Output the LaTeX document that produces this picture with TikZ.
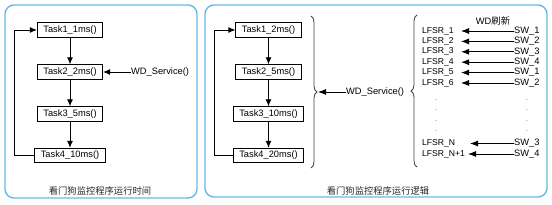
\documentclass[tikz,border=0pt]{standalone}
\usepackage{fontspec}
\setmainfont{Liberation Sans}
\newfontfamily\cjk{Noto Sans CJK SC}
\usetikzlibrary{arrows.meta,decorations.pathreplacing}
\definecolor{panelblue}{RGB}{100,188,228}
\tikzset{
  panel/.style={draw=panelblue,line width=1.4pt,rounded corners=9pt},
  taskbox/.style={draw=black,fill=white,line width=0.9pt,inner xsep=6pt,inner ysep=0pt,minimum height=14.5pt,font=\fontsize{9.3}{10}\selectfont},
  lbl/.style={inner sep=0pt,font=\fontsize{9.3}{10}\selectfont},
  lfsr/.style={inner sep=0pt,font=\fontsize{8.6}{10}\selectfont},
  caption/.style={inner sep=0pt,font=\cjk\fontsize{9.3}{10}\selectfont,text=black!85},
  arr/.style={line width=0.9pt,-{Latex[length=7pt,width=6pt]}},
  warr/.style={line width=0.9pt,-{Latex[length=8pt,width=6pt]}},
  bracestyle/.style={draw=black!75,line width=0.8pt,decorate,decoration={brace,amplitude=6pt}},
  dotlbl/.style={inner sep=0pt,font=\fontsize{6}{6}\selectfont}
}
\begin{document}
\begin{tikzpicture}[x=1pt,y=-1pt]
\useasboundingbox (0,0) rectangle (552,205);
% panels
\draw[panel] (5,5) rectangle (197,198);
\draw[panel] (205,5) rectangle (547,197);

% left panel
\node[taskbox] (a1) at (70,30) {Task1\_1ms()};
\node[taskbox] (a2) at (70,72) {Task2\_2ms()};
\node[taskbox] (a3) at (70,114) {Task3\_5ms()};
\node[taskbox] (a4) at (70,155.5) {Task4\_10ms()};
\node[lbl,anchor=west] (wda) at (131,72) {WD\_Service()};
\draw[arr] (a1) -- (a2);
\draw[arr] (a2) -- (a3);
\draw[arr] (a3) -- (a4);
\draw[arr] (wda.west) -- (a2.east);
\coordinate (la) at (14,0);
\draw[arr] (a4.west) -- (a4.west -| la) -- (a1.west -| la) -- (a1.west);
\node[caption] (capa) at (100,191) {看门狗监控程序运行时间};

% right panel
\node[taskbox] (b1) at (268.5,30) {Task1\_2ms()};
\node[taskbox] (b2) at (268.5,72) {Task2\_5ms()};
\node[taskbox] (b3) at (268.5,114) {Task3\_10ms()};
\node[taskbox] (b4) at (268.5,155.5) {Task4\_20ms()};
\draw[arr] (b1) -- (b2);
\draw[arr] (b2) -- (b3);
\draw[arr] (b3) -- (b4);
\coordinate (lb) at (214,0);
\draw[arr] (b4.west) -- (b4.west -| lb) -- (b1.west -| lb) -- (b1.west);

\coordinate (br1s) at (311,16);
\coordinate (br1e) at (311,168);
\draw[bracestyle] (br1s) -- (br1e);
\coordinate (br1tip) at (318,92);
\node[lbl,anchor=west] (wdb) at (346,92) {WD\_Service()};
\draw[warr] (wdb.west) -- (br1tip);

\coordinate (br2s) at (417,167);
\coordinate (br2e) at (417,15);
\draw[bracestyle] (br2s) -- (br2e);

\node[lbl] (wdr) at (493,21) {WD{\cjk 刷新}};

\coordinate (tipA) at (461,0);
\coordinate (tipN) at (470,0);
\coordinate (tipN1) at (468,0);
\foreach \i/\sw in {1/1,2/2,3/3,4/4,5/1,6/2}{
  \node[lfsr,anchor=west] (l\i) at (422,{31+10.4*(\i-1)}) {LFSR\_\i};
  \node[lbl,anchor=west] (s\i) at (514,{31+10.4*(\i-1)}) {SW\_\sw};
  \draw[warr] (s\i.west) -- (s\i.west -| tipA);
}
\node[lfsr,anchor=west] (lN) at (422,143.5) {LFSR\_N};
\node[lbl,anchor=west] (sN) at (514,143.5) {SW\_3};
\draw[warr] (sN.west) -- (sN.west -| tipN);
\node[lfsr,anchor=west] (lN1) at (422,154) {LFSR\_N+1};
\node[lbl,anchor=west] (sN1) at (514,154) {SW\_4};
\draw[warr] (sN1.west) -- (sN1.west -| tipN1);

\foreach \y [count=\k] in {100,110.5,121,131.5}{
  \node[dotlbl] (dl\k) at (436,\y) {.};
  \node[dotlbl] (dr\k) at (527,\y) {.};
}

\node[caption] (capb) at (378,191) {看门狗监控程序运行逻辑};
\end{tikzpicture}
\end{document}
